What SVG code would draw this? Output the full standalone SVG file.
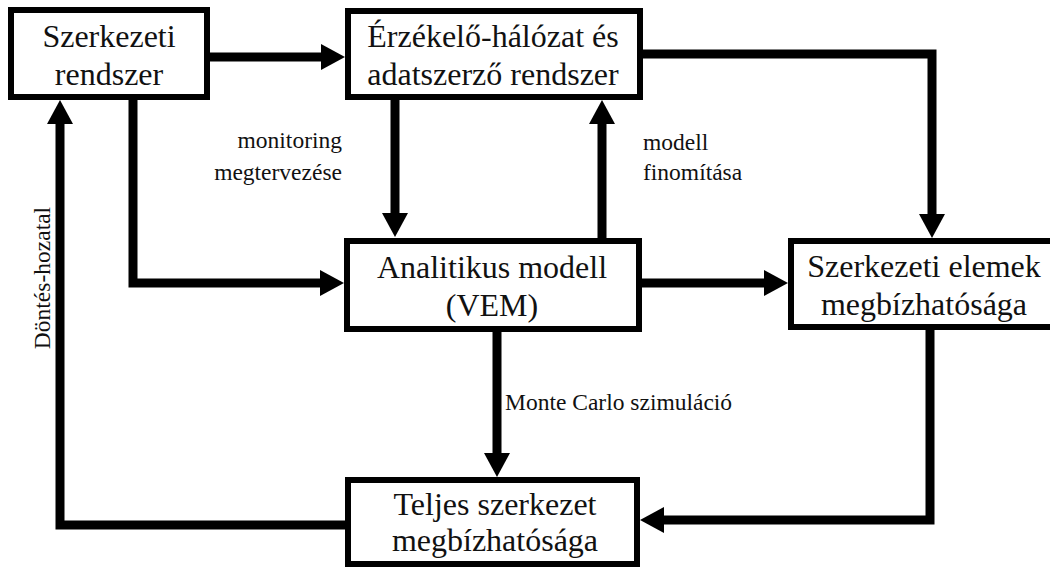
<svg xmlns="http://www.w3.org/2000/svg" width="1050" height="569" viewBox="0 0 1050 569">
  <style>
    .box { fill: #fff; stroke: #000; stroke-width: 6; }
    .t { font-family: 'Liberation Serif', 'DejaVu Serif', serif; font-size: 32px; fill: #111; text-anchor: middle; }
    .lbl { font-family: 'Liberation Serif', 'DejaVu Serif', serif; font-size: 23.5px; fill: #111; }
    .c { fill: none; stroke: #000; stroke-width: 9; stroke-linejoin: miter; marker-end: url(#ah); }
  </style>
  <defs>
    <marker id="ah" markerUnits="userSpaceOnUse" viewBox="0 -13 24 26" markerWidth="24" markerHeight="26" refX="0" refY="0" orient="auto" overflow="visible">
      <path d="M0,-13 L24,0 L0,13 z" fill="#000"/>
    </marker>
  </defs>
  <rect width="1050" height="569" fill="#fff"/>
  <g id="connectors">
    <path class="c" d="M210,57 H321"/>
    <path class="c" d="M643,54 H932 V214"/>
    <path class="c" d="M395,100 V213"/>
    <path class="c" d="M602,238 V124"/>
    <path class="c" d="M133,100 V283 H320"/>
    <path class="c" d="M642,283 H764"/>
    <path class="c" d="M497,332 V453"/>
    <path class="c" d="M930,330 V520 H664"/>
    <path class="c" d="M345,525 H60 V124"/>
  </g>
  <g id="labels">
    <text class="lbl" x="342" y="148" text-anchor="end">monitoring</text>
    <text class="lbl" x="342" y="180" text-anchor="end">megtervezése</text>
    <text class="lbl" x="643" y="150">modell</text>
    <text class="lbl" x="643" y="180">finomítása</text>
    <text class="lbl" x="505" y="410">Monte Carlo szimuláció</text>
    <text class="lbl" x="50" y="278" font-size="27" text-anchor="middle" transform="rotate(-90 50 278)">Döntés-hozatal</text>
  </g>
  <g id="node-szerkezeti-rendszer">
    <rect class="box" x="11" y="10" width="196" height="87"/>
    <text class="t" x="109" y="47">Szerkezeti</text>
    <text class="t" x="109" y="85">rendszer</text>
  </g>
  <g id="node-erzekelo-halozat">
    <rect class="box" x="348" y="11" width="292" height="86"/>
    <text class="t" x="493" y="47">Érzékelő-hálózat és</text>
    <text class="t" x="493" y="85">adatszerző rendszer</text>
  </g>
  <g id="node-analitikus-modell">
    <rect class="box" x="347" y="241" width="292" height="88"/>
    <text class="t" x="492" y="278">Analitikus modell</text>
    <text class="t" x="492" y="316">(VEM)</text>
  </g>
  <g id="node-szerkezeti-elemek">
    <rect class="box" x="791" y="241" width="270" height="86"/>
    <text class="t" x="924" y="277">Szerkezeti elemek</text>
    <text class="t" x="924" y="315">megbízhatósága</text>
  </g>
  <g id="node-teljes-szerkezet">
    <rect class="box" x="348" y="480" width="289" height="84"/>
    <text class="t" x="495" y="515">Teljes szerkezet</text>
    <text class="t" x="495" y="551">megbízhatósága</text>
  </g>
</svg>
